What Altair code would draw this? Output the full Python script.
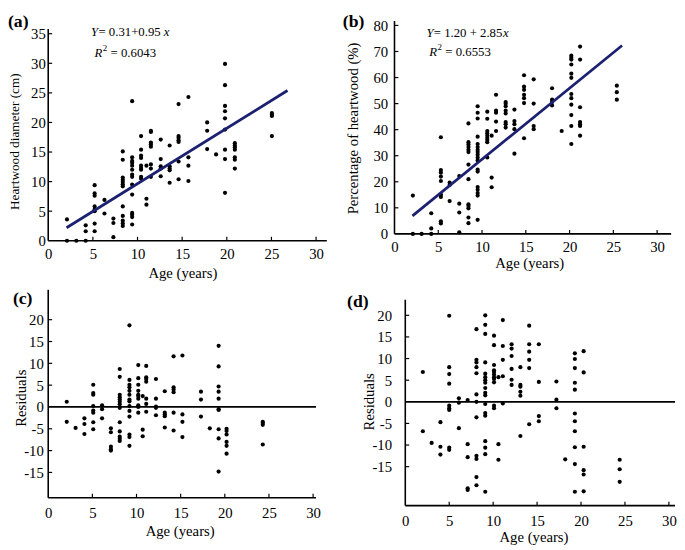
import altair as alt
import pandas as pd

FONT = "Liberation Serif"
NAVY = "#1b2170"

# ---------------- data ----------------
# (a) Heartwood diameter (cm) vs age
a_cols = [2.1, 3.15, 4.2, 5.2, 6.3, 7.3, 8.35, 9.4, 10.4, 11.0, 11.5, 12.6, 13.6, 14.6,
          15.7, 17.8, 18.8, 19.8, 20.9, 25.05]
a_vals = [
    [3.6, 0], [0], [2.6, 1.6, 0],
    [9.4, 8.0, 7.6, 5.8, 5.3, 5.0, 2.9, 1.6],
    [6.9, 4.6], [3.75, 3.0, 0.6],
    [15.1, 13.7, 10.7, 10.3, 9.95, 9.55, 9.2, 5.8, 4.2, 3.4, 2.9, 2.5],
    [23.6, 14.1, 13.5, 13.2, 12.7, 12.0, 11.2, 10.8, 9.5, 7.8, 4.7, 4.4, 4.0, 2.75],
    [17.7, 15.4, 14.4, 14.0, 12.7, 12.3, 12.0, 10.8, 10.5],
    [12.7, 7.1, 6.1],
    [18.6, 18.4, 16.6, 16.3, 15.9, 12.9, 12.2, 10.8],
    [17.1, 13.8, 12.6, 12.2, 10.9],
    [16.1, 12.6, 12.2, 11.9, 9.8],
    [23.1, 17.7, 17.4, 17.0, 16.7, 13.4, 10.4],
    [24.3, 14.1, 12.7, 10.1],
    [20.0, 18.6, 15.5],
    [14.6],
    [29.9, 26.3, 22.8, 21.9, 20.7, 18.8, 15.4, 13.8, 8.1],
    [16.5, 16.1, 15.8, 15.4, 14.1, 13.7, 12.2],
    [21.6, 21.3, 21.1, 17.7],
]
a_fit_x = [2.05, 26.8]
a_fit_y = [2.2, 25.4]

# (b) Percentage of heartwood (%) vs age
b_cols = [2.1, 3.1, 4.2, 5.3, 6.3, 7.4, 8.45, 9.5, 10.6, 11.1, 11.6, 12.7, 13.7, 14.8,
          15.9, 18.0, 19.1, 20.2, 21.2, 25.4]
b_vals = [
    [14.7, 0], [0], [7.9, 2.1, 0],
    [37.1, 24.5, 23.5, 22.0, 20.3, 15.1, 14.2, 4.8, 4.0],
    [19.7, 18.8, 12.6],
    [22.2, 11.6, 8.2, 0.6],
    [42.4, 35.2, 34.3, 33.3, 32.3, 31.4, 26.6, 21.0, 11.3, 10.7, 9.8, 6.3, 4.1],
    [49.0, 46.5, 44.3, 37.3, 34.5, 33.3, 32.3, 31.4, 30.4, 29.3, 28.2, 24.7, 23.9,
     18.0, 16.9, 15.7, 14.7, 5.4],
    [46.9, 44.2, 39.5, 38.6, 37.7, 36.8, 36.0, 35.2, 29.3],
    [37.7, 21.6, 17.9],
    [53.4, 47.3, 46.5, 43.1, 39.5],
    [50.6, 49.9, 49.0, 47.3, 46.2, 42.9, 42.1, 40.8],
    [47.7, 43.3, 42.1, 40.2, 30.8],
    [60.9, 56.5, 55.3, 53.4, 52.1, 50.2, 36.7],
    [59.3, 50.0, 41.4, 40.2],
    [55.9, 51.5, 50.6, 49.3],
    [39.5],
    [68.4, 67.6, 66.9, 65.0, 61.5, 59.9, 53.7, 52.1, 49.6, 45.6, 41.4, 34.5],
    [71.9, 66.9, 48.6, 42.9, 42.1, 41.4, 37.7],
    [56.9, 54.4, 51.5],
]
b_fit_x = [2.05, 26.0]
b_fit_y = [6.9, 72.3]

# (c) Residuals of (a)
c_cols = [2.1, 3.1, 4.1, 5.1, 6.1, 7.1, 8.1, 9.2, 10.2, 10.7, 11.1, 12.2, 13.2, 14.2,
          15.2, 17.3, 18.3, 19.3, 20.2, 24.3]
c_vals = [
    [1.2, -3.4], [-4.8], [-2.6, -3.9, -6.2],
    [5.1, 3.2, 2.8, 0.2, -0.8, -1.3, -3.5, -5.1],
    [0.4, -0.5, -2.6],
    [-4.9, -5.8, -9.1, -9.7, -10.0],
    [8.7, 6.9, 2.8, 2.2, 1.7, 1.2, 0.6, -0.2, -3.5, -5.6, -6.8, -7.3, -7.8],
    [18.7, 6.2, 5.1, 4.5, 3.7, 2.8, 1.7, 1.3, 0.2, -0.9, -2.2, -6.3, -6.9, -8.9],
    [9.6, 6.6, 5.1, 3.7, 2.8, 2.5, 1.9, 0.4, 0.0, -1.3],
    [2.5, -5.2, -6.7],
    [9.4, 6.8, 6.4, 5.8, 1.9, 0.7, -1.1],
    [6.4, 1.9, 0.1, -0.2, -1.9],
    [3.6, -1.3, -1.7, -2.1, -4.7],
    [11.6, 4.5, 4.0, 3.4, -1.3, -5.4],
    [11.8, -1.7, -3.4, -6.9],
    [3.5, 1.7, -2.2],
    [-4.9],
    [14.0, 9.3, 4.7, 3.5, 1.9, -0.5, -0.7, -5.1, -7.2, -14.8],
    [-5.0, -5.5, -6.3, -8.0, -8.9, -10.7],
    [-3.4, -3.7, -4.1, -8.6],
]

# (d) Residuals of (b)
d_cols = [2.0, 3.0, 4.0, 5.0, 6.1, 7.1, 8.1, 9.1, 10.1, 10.6, 11.1, 12.1, 13.1, 14.1,
          15.2, 17.2, 18.2, 19.3, 20.3, 24.4]
d_vals = [
    [6.9, -6.8], [-9.5], [-4.7, -10.4, -12.2],
    [19.9, 8.0, 6.4, 4.2, -0.9, -1.5, -1.9, -10.6, -11.1],
    [0.8, -0.2, -6.1],
    [0.4, -9.8, -12.8, -20.0, -20.4],
    [16.8, 9.7, 9.1, 8.0, 6.6, 1.7, 0.0, -3.6, -12.5, -13.2, -17.4, -19.3],
    [20.0, 17.8, 15.7, 9.1, 6.5, 5.7, 5.0, 4.4, 3.2, 2.1, 1.5, -0.5, -2.6, -3.2,
     -9.1, -10.6, -12.1, -20.8],
    [15.3, 13.1, 8.5, 7.3, 6.9, 6.3, 5.7, 5.3, 4.5, -0.9, -1.5],
    [5.7, -9.8, -13.4],
    [18.9, 12.9, 9.7, 5.9, -0.4],
    [13.3, 12.3, 10.6, 7.6, 5.1, 3.9],
    [8.0, 3.9, 3.5, 2.3, 1.4, -7.9],
    [17.6, 13.3, 11.6, 9.7, 7.8, -5.2],
    [13.3, 4.6, -3.3, -4.5],
    [4.7, 0.5, -1.5],
    [-13.3],
    [11.2, 9.9, 7.8, 4.4, 2.8, -2.7, -4.5, -6.8, -10.5, -14.4, -20.8],
    [11.7, 6.8, -10.4, -15.8, -16.8, -20.7],
    [-13.4, -15.6, -18.5],
]

x_labels = [0, 5, 10, 15, 20, 25, 30]
x_ticks = [5, 10, 15, 20, 25, 30]
a_labels = [0, 5, 10, 15, 20, 25, 30, 35]
b_labels = [0, 10, 20, 30, 40, 50, 60, 70, 80]
res_labels = [-15, -10, -5, 0, 5, 10, 15, 20]


def expand(cols, vals):
    xs, ys = [], []
    for c, vs in zip(cols, vals):
        for v in vs:
            xs.append(c)
            ys.append(v)
    return pd.DataFrame({"age": xs, "val": ys})


def panel(df, s):
    xs = alt.Scale(domain=s["xdom"], nice=False, zero=False)
    ys = alt.Scale(domain=s["ydom"], nice=False, zero=False)
    W, H = s["w"], s["h"]
    xaxis = alt.Axis(values=x_labels, labelPadding=s["xlp"], title="Age (years)",
                     titleX=s["xtx"], titleY=s["xty"], titleAlign="center",
                     titleBaseline="middle", labelExpr="datum.value + ''")
    yaxis = alt.Axis(values=s["ylab"], labelPadding=s["ylp"], title=s["ytitle"],
                     titleAngle=270, titleX=s["ytx"], titleY=s["yty"],
                     titleAlign="center", titleBaseline="middle",
                     titleFontSize=s["ytfs"], labelExpr="datum.value + ''")

    def X(f):
        return alt.X(f, scale=xs, axis=xaxis)

    def Y(f):
        return alt.Y(f, scale=ys, axis=yaxis)

    layers = []
    layers.append(alt.Chart(df).mark_circle(size=18, color="black", opacity=1).encode(
        x=X("age:Q"), y=Y("val:Q")))
    # axis lines
    layers.append(alt.Chart(pd.DataFrame({"a": [s["xdom"][0]], "b": [s["xdom"][1]],
                                          "y": [s["ydom"][0]]}))
                  .mark_rule(color="black", strokeWidth=1.6).encode(
        x=X("a:Q"), x2="b:Q", y=Y("y:Q")))
    layers.append(alt.Chart(pd.DataFrame({"x": [0], "a": [s["ydom"][0]], "b": [s["ytop"]]}))
                  .mark_rule(color="black", strokeWidth=1.6).encode(
        x=X("x:Q"), y=Y("a:Q"), y2="b:Q"))
    # inward ticks
    layers.append(alt.Chart(pd.DataFrame({"t": x_ticks})).mark_rule(
        color="black", strokeWidth=1.2).encode(
        x=X("t:Q"), y=alt.value(H), y2=alt.value(H - 4)))
    layers.append(alt.Chart(pd.DataFrame({"t": s["yticks"]})).mark_rule(
        color="black", strokeWidth=1.2).encode(
        y=Y("t:Q"), x=alt.value(0), x2=alt.value(4)))
    if s.get("fit"):
        fx, fy = s["fit"]
        layers.append(alt.Chart(pd.DataFrame({"x": fx, "y": fy})).mark_line(
            color=NAVY, strokeWidth=2.8).encode(x=X("x:Q"), y=Y("y:Q")))
    if s.get("zero"):
        layers.append(alt.Chart(pd.DataFrame({"a": [0], "b": [s["xdom"][1]], "y": [0]}))
                      .mark_rule(color="black", strokeWidth=1.8).encode(
            x=X("a:Q"), x2="b:Q", y=Y("y:Q")))
    # equation text pieces
    for (tx, ty, txt, dx, dy, fs, style) in s.get("eq", []):
        layers.append(alt.Chart(pd.DataFrame({"x": [tx], "y": [ty], "t": [txt]}))
                      .mark_text(font=FONT, fontSize=fs, fontStyle=style, align="left",
                                 baseline="middle", dx=dx, dy=dy, color="black").encode(
            x=X("x:Q"), y=Y("y:Q"), text="t:N"))
    # panel letter
    lx, ly = s["lab_pos"]
    layers.append(alt.Chart(pd.DataFrame({"t": [s["lab"]]})).mark_text(
        font=FONT, fontSize=18, fontWeight="bold", align="left", baseline="top",
        color="black").encode(x=alt.value(lx), y=alt.value(ly), text="t:N"))
    return alt.layer(*layers).properties(width=W, height=H)


def eq_pieces(x1, y1, mid, xdx, x2, y2, rval):
    return [
        (x1, y1, "Y", 0, 0, 13, "italic"),
        (x1, y1, mid, 7.5, 0, 13, "normal"),
        (x1, y1, "x", xdx, 0, 13, "italic"),
        (x2, y2, "R", 0, 0, 13, "italic"),
        (x2, y2, "2", 8.5, -5, 9, "normal"),
        (x2, y2, "= " + rval, 16.5, 0, 13, "normal"),
    ]


pa = panel(expand(a_cols, a_vals), dict(
    xdom=[0, 31.2], ydom=[0, 37.15], w=284, h=224, ytop=35.8,
    xlp=6, xtx=136.8, xty=32.7, ylab=a_labels, ylp=3, ytitle="Heartwood diameter (cm)",
    ytx=-34, yty=122.5, ytfs=13.5, yticks=[5, 10, 15, 20, 25, 30, 35],
    fit=(a_fit_x, a_fit_y),
    eq=eq_pieces(4.8, 35.2, "= 0.31+0.95", 74, 5.17, 31.7, "0.6043"),
    lab="(a)", lab_pos=(-41, -8)))

pb = panel(expand(b_cols, b_vals), dict(
    xdom=[0, 31.6], ydom=[0, 81.7], w=282, h=217, ytop=81.7,
    xlp=6, xtx=137.3, xty=29.5, ylab=b_labels, ylp=7,
    ytitle="Percentage of  heartwood (%)",
    ytx=-42.4, yty=109, ytfs=15, yticks=[10, 20, 30, 40, 50, 60, 70, 80],
    fit=(b_fit_x, b_fit_y),
    eq=eq_pieces(3.65, 77.2, "= 1.20 + 2.85", 78, 3.96, 69.9, "0.6553"),
    lab="(b)", lab_pos=(-52.7, -8)))

pc = panel(expand(c_cols, c_vals), dict(
    xdom=[0, 30.33], ydom=[-20.8, 26.85], w=273, h=212, ytop=26.85,
    xlp=8, xtx=134, xty=33, ylab=res_labels, ylp=5, ytitle="Residuals",
    ytx=-28, yty=110, ytfs=15, yticks=[-15, -10, -5, 5, 10, 15, 20],
    zero=True, lab="(c)", lab_pos=(-36, 0)))

pd_ = panel(expand(d_cols, d_vals), dict(
    xdom=[0, 30.7], ydom=[-24.0, 25.9], w=275, h=220, ytop=23.6,
    xlp=8, xtx=130.7, xty=32, ylab=res_labels, ylp=14, ytitle="Residuals",
    ytx=-37.3, yty=113.7, ytfs=15, yticks=[-15, -10, -5, 5, 10, 15, 20],
    zero=True, lab="(d)", lab_pos=(-59.3, 4)))

chart = alt.vconcat(
    alt.hconcat(pa, pb, spacing=15),
    alt.hconcat(pc, pd_, spacing=26),
    spacing=8,
).properties(padding=0).configure_axis(
    labelFont=FONT, labelFontSize=15, labelColor="black",
    titleFont=FONT, titleFontSize=15, titleColor="black", titleFontWeight="normal",
    domain=False, ticks=False, tickSize=0, grid=False,
    labelFlush=False, labelOverlap=False,
).configure_view(stroke=None)

chart.save("out.html", embed_options={"renderer": "svg", "actions": False})
